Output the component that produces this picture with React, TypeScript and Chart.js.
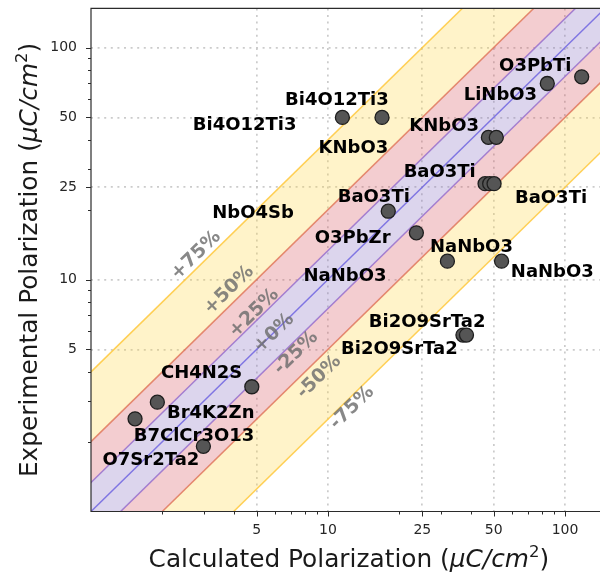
import React, { useEffect, useRef } from 'react';
import { Chart, registerables } from 'chart.js';

Chart.register(...registerables);

// ---------- data ----------
const X_MIN = 1;
const X_MAX = 140.5; // visible right edge (the reference plot is cropped here)
const X_FULL_MAX = 150; // full axis extent, used to centre the axis title
const Y_MIN = 1;
const Y_MAX = 147.5;

const majorTicks = [5, 10, 25, 50, 100];
const minorTicks = [2, 3, 4, 6, 7, 8, 9, 20, 30, 40, 60, 70, 80, 90];

const pointNames = [
  'LiNbO3', 'O3PbTi', 'Bi4O12Ti3', 'Bi4O12Ti3', 'KNbO3', 'KNbO3',
  'BaO3Ti', 'BaO3Ti', 'BaO3Ti', 'NbO4Sb', 'O3PbZr', 'NaNbO3', 'NaNbO3',
  'Bi2O9SrTa2', 'Bi2O9SrTa2', 'CH4N2S', 'Br4K2Zn', 'O7Sr2Ta2', 'B7ClCr3O13',
];
const calcValues = [
  84.2, 117.6, 11.5, 16.9, 47.5, 51.3,
  46.0, 48.1, 50.2, 17.96, 23.6, 31.9, 54.0,
  37.1, 38.4, 4.77, 1.905, 1.534, 2.98,
];
const expValues = [
  70.0, 74.8, 50.0, 50.0, 41.0, 41.0,
  25.9, 25.9, 25.9, 19.7, 15.9, 12.0, 12.0,
  5.76, 5.76, 3.45, 2.96, 2.51, 1.91,
];

const labelTexts = [
  'O3PbTi', 'LiNbO3', 'Bi4O12Ti3', 'Bi4O12Ti3', 'KNbO3', 'KNbO3',
  'BaO3Ti', 'BaO3Ti', 'BaO3Ti', 'NbO4Sb', 'O3PbZr', 'NaNbO3', 'NaNbO3', 'NaNbO3',
  'Bi2O9SrTa2', 'Bi2O9SrTa2', 'CH4N2S', 'Br4K2Zn', 'B7ClCr3O13', 'O7Sr2Ta2',
];
const labelCalc = [
  74.9, 53.4, 10.9, 4.45, 30.9, 12.8,
  29.6, 87.3, 15.6, 4.83, 12.7, 40.3, 88.4, 11.8,
  26.2, 20.0, 2.93, 3.2, 2.72, 1.79,
];
const labelExp = [
  83.4, 62.0, 59.0, 46.1, 45.6, 36.6,
  29.0, 22.3, 22.6, 19.2, 15.0, 13.8, 10.7, 10.3,
  6.57, 5.01, 3.94, 2.65, 2.11, 1.67,
];

const bandPercents = [75, 50, 25, 0, -25, -50, -75];
const bandLabels = ['+75%', '+50%', '+25%', '+0%', '-25%', '-50%', '-75%'];
const bandLabelCalc = [2.77, 3.82, 4.87, 5.92, 7.33, 9.17, 12.63];
const bandLabelExp = [12.7, 9.0, 7.16, 5.87, 4.82, 3.8, 2.8];
const lineEnds = [0.5, 300];

// ---------- styles ----------
const bandLineColors = [
  'rgba(255,200,60,0.85)',
  'rgba(222,112,85,0.8)',
  'rgba(150,110,205,0.85)',
  'rgba(110,100,225,0.85)',
  'rgba(150,110,205,0.85)',
  'rgba(222,112,85,0.8)',
  'rgba(255,200,60,0.85)',
];
const bandFillColors = [
  'rgba(255,214,70,0.29)',
  'rgba(215,90,100,0.3)',
  'rgba(140,115,195,0.3)',
  'rgba(140,115,195,0.3)',
  'rgba(215,90,100,0.3)',
  'rgba(255,214,70,0.29)',
  'transparent',
];

const FONT = '"DejaVu Sans", Verdana, sans-serif';

function factorOf(p: number) {
  return p >= 0 ? 1 / (1 - p / 100) : 1 + p / 100;
}

function drawParts(ctx: CanvasRenderingContext2D, parts: any[], cx: number, baseline: number) {
  let total = 0;
  for (const p of parts) {
    ctx.font = p.f;
    total += ctx.measureText(p.t).width;
  }
  let x = cx - total / 2;
  ctx.textAlign = 'left';
  ctx.textBaseline = 'alphabetic';
  for (const p of parts) {
    ctx.font = p.f;
    ctx.fillText(p.t, x, baseline + (p.dy || 0));
    x += ctx.measureText(p.t).width;
  }
}

const titleParts = (first: string) => [
  { t: first + ' (', f: `24.8px ${FONT}` },
  { t: 'μC/cm', f: `oblique 24.8px ${FONT}` },
  { t: '2', f: `16.5px ${FONT}`, dy: -10 },
  { t: ')', f: `24.8px ${FONT}` },
];

const overlayPlugin = {
  id: 'overlay',
  afterDatasetsDraw(chart: any) {
    const { ctx, scales } = chart;
    const xs = scales.x;
    const ys = scales.y;
    const dx = xs.getPixelForValue(10) - xs.getPixelForValue(1);
    const dy = ys.getPixelForValue(10) - ys.getPixelForValue(1);
    const ang = Math.atan2(dy, dx);
    ctx.save();
    ctx.font = `bold 19px ${FONT}`;
    ctx.fillStyle = 'rgba(110,110,110,0.82)';
    ctx.textAlign = 'center';
    ctx.textBaseline = 'middle';
    bandLabels.forEach((t, i) => {
      ctx.save();
      ctx.translate(xs.getPixelForValue(bandLabelCalc[i]), ys.getPixelForValue(bandLabelExp[i]));
      ctx.rotate(ang);
      ctx.fillText(t, 0, 0);
      ctx.restore();
    });
    ctx.font = `bold 18px ${FONT}`;
    ctx.fillStyle = '#000';
    labelTexts.forEach((t, i) => {
      ctx.fillText(t, xs.getPixelForValue(labelCalc[i]), ys.getPixelForValue(labelExp[i]));
    });
    ctx.restore();
  },
  afterDraw(chart: any) {
    const { ctx, chartArea, scales } = chart;
    const { left, right, top, bottom } = chartArea;
    ctx.save();
    ctx.strokeStyle = '#2b2b2b';
    ctx.lineWidth = 1.2;
    ctx.beginPath();
    ctx.moveTo(right + 10, top);
    ctx.lineTo(left, top);
    ctx.lineTo(left, bottom);
    ctx.lineTo(right + 10, bottom);
    ctx.stroke();
    ctx.lineWidth = 1;
    ctx.beginPath();
    for (const v of [...majorTicks, ...minorTicks]) {
      const len = majorTicks.includes(v) ? 5 : 3;
      const px = Math.round(scales.x.getPixelForValue(v)) + 0.5;
      ctx.moveTo(px, bottom);
      ctx.lineTo(px, bottom + len);
      const py = Math.round(scales.y.getPixelForValue(v)) + 0.5;
      ctx.moveTo(left, py);
      ctx.lineTo(left - len, py);
    }
    ctx.stroke();
    ctx.fillStyle = '#1a1a1a';
    const cx = (scales.x.getPixelForValue(X_MIN) + scales.x.getPixelForValue(X_FULL_MAX)) / 2;
    drawParts(ctx, titleParts('Calculated Polarization'), cx, 567);
    ctx.translate(37, (top + bottom) / 2);
    ctx.rotate(-Math.PI / 2);
    drawParts(ctx, titleParts('Experimental Polarization'), 0, 0);
    ctx.restore();
  },
};

function tickList(max: number) {
  return [1, ...[...majorTicks, ...minorTicks].sort((a, b) => a - b), max];
}

export default function App() {
  const ref = useRef<HTMLCanvasElement>(null);
  useEffect(() => {
    if (!ref.current) return;
    const bandSets = bandPercents.map((p, i) => {
      const k = factorOf(p);
      return {
        type: 'line',
        data: lineEnds.map((x) => ({ x, y: x * k })),
        borderColor: bandLineColors[i],
        borderWidth: 1.5,
        backgroundColor: bandFillColors[i],
        fill: i < bandPercents.length - 1 ? '+1' : false,
        pointRadius: 0,
        tension: 0,
        clip: 0,
        order: 1,
      };
    });
    const pointsSet = {
      type: 'line',
      label: 'materials',
      data: calcValues.map((x, i) => ({ x, y: expValues[i], name: pointNames[i] })),
      showLine: false,
      pointRadius: 7,
      pointBackgroundColor: '#555555',
      pointBorderColor: '#1e1e1e',
      pointBorderWidth: 1.3,
      order: -1,
      clip: false,
    };
    const gridColor = (c: any) =>
      c.tick && majorTicks.includes(c.tick.value) ? 'rgba(200,200,200,0.95)' : 'transparent';
    const chart = new Chart(ref.current, {
      type: 'line',
      data: { datasets: [pointsSet, ...bandSets] as any },
      options: {
        animation: false,
        responsive: false,
        devicePixelRatio: 1,
        events: [],
        layout: { autoPadding: false, padding: { top: 7, right: 0, left: 0, bottom: 0 } },
        plugins: {
          legend: { display: false },
          tooltip: { enabled: false },
          filler: { drawTime: 'beforeDatasetsDraw' },
        },
        scales: {
          x: {
            type: 'logarithmic',
            min: X_MIN,
            max: X_MAX,
            afterBuildTicks: (s: any) => {
              s.ticks = tickList(X_MAX).map((value) => ({ value }));
            },
            afterFit: (s: any) => {
              s.height = 64.5;
            },
            ticks: {
              autoSkip: false,
              maxRotation: 0,
              padding: 0,
              color: '#262626',
              font: { family: FONT, size: 14 },
              callback: (v: any) => (majorTicks.includes(Number(v)) ? String(v) : null),
            },
            grid: {
              color: gridColor,
              lineWidth: 1.7,
              drawTicks: true,
              tickLength: 10,
              tickWidth: 0,
            },
            border: { display: false, dash: [2, 4.6] },
          },
          y: {
            type: 'logarithmic',
            min: Y_MIN,
            max: Y_MAX,
            afterBuildTicks: (s: any) => {
              s.ticks = tickList(Y_MAX).map((value) => ({ value }));
            },
            afterFit: (s: any) => {
              s.width = 91;
            },
            ticks: {
              autoSkip: false,
              padding: 0,
              color: '#262626',
              font: { family: FONT, size: 14 },
              callback: (v: any) => (majorTicks.includes(Number(v)) ? String(v) : null),
            },
            grid: {
              color: gridColor,
              lineWidth: 1.7,
              drawTicks: true,
              tickLength: 14,
              tickWidth: 0,
            },
            border: { display: false, dash: [2, 4.6] },
          },
        },
      } as any,
      plugins: [overlayPlugin],
    });
    return () => chart.destroy();
  }, []);
  return (
    <div style={{ position: 'fixed', left: 0, top: 0, width: 600, height: 576, overflow: 'hidden', background: '#fff' }}>
      <canvas ref={ref} width={600} height={576} style={{ display: 'block' }} />
    </div>
  );
}
